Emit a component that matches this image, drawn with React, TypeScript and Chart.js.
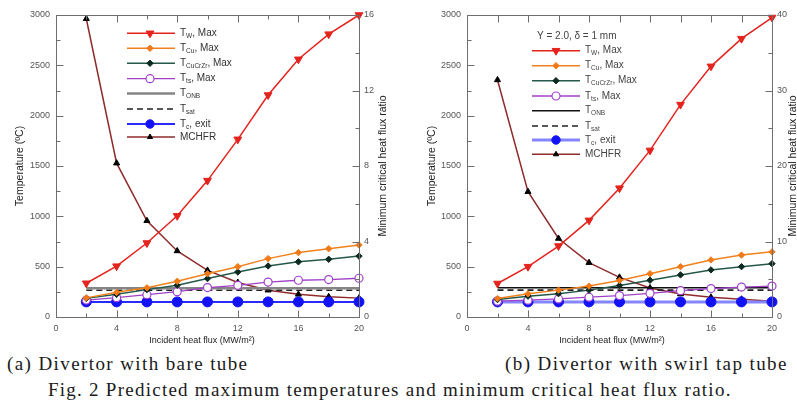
import React, { useEffect, useRef } from 'react';
import { Chart, registerables } from 'chart.js';

Chart.register(...registerables);

const SANS = '"Liberation Sans", Arial, sans-serif';
const SERIF = '"Liberation Serif", "Times New Roman", serif';
const axisColor = '#6e6e6e';

// ---------- shared data ----------
const heatFlux = [2, 4, 6, 8, 10, 12, 14, 16, 18, 20];
const lineEnds = [2, 20];
const xMin = 0;
const xMax = 20;
const xTickStep = 4;
const tempMin = 0;
const tempMax = 3000;
const tempStep = 500;

const legendParts = [
  ['T', 'W', ', Max'],
  ['T', 'Cu', ', Max'],
  ['T', 'CuCrZr', ', Max'],
  ['T', 'ts', ', Max'],
  ['T', 'ONB', ''],
  ['T', 'sat', ''],
  ['T', 'c', ', exit'],
  ['MCHFR', '', ''],
];

// ---------- (a) bare tube ----------
const aTW = [335, 505, 735, 1005, 1355, 1765, 2205, 2560, 2810, 3000];
const aTCu = [190, 245, 290, 355, 430, 500, 580, 640, 678, 715];
const aTCuCrZr = [185, 225, 272, 315, 382, 447, 507, 548, 573, 605];
const aTts = [168, 192, 222, 252, 292, 315, 347, 365, 372, 385];
const aTONB = [285, 285];
const aTsat = [265, 265];
const aTcExit = [150, 150, 150, 150, 150, 150, 150, 150, 150, 150];
const aMCHFR = [15.8, 8.15, 5.1, 3.5, 2.47, 1.83, 1.42, 1.2, 1.07, 1.0];
const aRatioMax = 16;
const aRatioStep = 4;

// ---------- (b) swirl tape tube ----------
const bTW = [333, 500, 705, 960, 1280, 1655, 2110, 2490, 2765, 2975];
const bTCu = [183, 230, 267, 307, 363, 430, 500, 567, 615, 647];
const bTCuCrZr = [173, 207, 232, 267, 313, 365, 418, 468, 500, 530];
const bTts = [157, 167, 180, 197, 213, 235, 262, 282, 297, 307];
const bTONB = [290, 290];
const bTsat = [267, 267];
const bTcExit = [150, 150, 150, 150, 150, 150, 150, 150, 150, 150];
const bMCHFR = [31.4, 16.6, 10.4, 7.2, 5.25, 3.85, 3.05, 2.6, 2.35, 2.1];
const bRatioMax = 40;
const bRatioStep = 10;
const bHeader = 'Y = 2.0, \u03B4 = 1 mm';

const xTitle = 'Incident heat flux (MW/m\u00B2)';
const yTitle = 'Temperature (\u00BAC)';
const y1Title = 'Minimum critical heat flux ratio';

const pts = (xs: number[], ys: number[]) => xs.map((x, i) => ({ x, y: ys[i] }));

// ---------- plugins ----------
function drawMarker(ctx: CanvasRenderingContext2D, ds: any, x: number, y: number) {
  const r = ds.legendRadius ?? ds.pointRadius;
  if (!r) return;
  ctx.save();
  ctx.fillStyle = ds.pointBackgroundColor;
  ctx.strokeStyle = ds.pointBorderColor;
  ctx.lineWidth = ds.pointBorderWidth ?? 1;
  ctx.setLineDash([]);
  ctx.beginPath();
  const st = ds.pointStyle;
  if (st === 'triangle') {
    const rot = ((ds.pointRotation || 0) * Math.PI) / 180;
    for (let k = 0; k < 3; k++) {
      const ang = rot + (k * 2 * Math.PI) / 3;
      const px = x + Math.sin(ang) * r;
      const py = y - Math.cos(ang) * r;
      if (k === 0) ctx.moveTo(px, py);
      else ctx.lineTo(px, py);
    }
    ctx.closePath();
  } else if (st === 'rectRot') {
    ctx.moveTo(x, y - r);
    ctx.lineTo(x + r, y);
    ctx.lineTo(x, y + r);
    ctx.lineTo(x - r, y);
    ctx.closePath();
  } else {
    ctx.arc(x, y, r, 0, Math.PI * 2);
  }
  ctx.fill();
  ctx.stroke();
  ctx.restore();
}

const framePlugin = {
  id: 'frame',
  afterDraw(chart: any, _a: any, opts: any) {
    const { ctx, chartArea: a } = chart;
    const sx = chart.scales.x;
    const sy = chart.scales.y;
    const sy1 = chart.scales.y1;
    const L = Math.round(a.left) + 0.5;
    const R = Math.round(a.right) + 0.5;
    const T = Math.round(a.top) + 0.5;
    const B = Math.round(a.bottom) + 0.5;
    const major = 7;
    const minor = 4;
    ctx.save();
    ctx.strokeStyle = axisColor;
    ctx.lineWidth = 1;
    ctx.setLineDash([]);
    ctx.strokeRect(L, T, R - L, B - T);
    const seg = (x1: number, y1: number, x2: number, y2: number) => {
      ctx.beginPath();
      ctx.moveTo(x1, y1);
      ctx.lineTo(x2, y2);
      ctx.stroke();
    };
    const topMinor = opts.topMinor ?? minor;
    const xv = sx.ticks.map((t: any) => t.value);
    xv.forEach((v: number, i: number) => {
      const p = Math.round(sx.getPixelForValue(v)) + 0.5;
      seg(p, B, p, B - major);
      seg(p, T, p, T + major);
      if (i < xv.length - 1) {
        const m = Math.round(sx.getPixelForValue((v + xv[i + 1]) / 2)) + 0.5;
        seg(m, B, m, B - minor);
        seg(m, T, m, T + topMinor);
      }
    });
    const yv = sy.ticks.map((t: any) => t.value);
    yv.forEach((v: number, i: number) => {
      const p = Math.round(sy.getPixelForValue(v)) + 0.5;
      seg(L, p, L + major, p);
      if (i < yv.length - 1) {
        const m = Math.round(sy.getPixelForValue((v + yv[i + 1]) / 2)) + 0.5;
        seg(L, m, L + minor, m);
      }
    });
    const y1v = sy1.ticks.map((t: any) => t.value);
    y1v.forEach((v: number, i: number) => {
      const p = Math.round(sy1.getPixelForValue(v)) + 0.5;
      seg(R, p, R - major, p);
      if (i < y1v.length - 1) {
        const m = Math.round(sy1.getPixelForValue((v + y1v[i + 1]) / 2)) + 0.5;
        seg(R, m, R - minor, m);
      }
    });
    ctx.restore();
  },
};

const titlesPlugin = {
  id: 'titles',
  afterDraw(chart: any, _a: any, opts: any) {
    const { ctx, chartArea: a } = chart;
    const cy = (a.top + a.bottom) / 2;
    ctx.save();
    ctx.fillStyle = '#222';
    ctx.textAlign = 'center';
    ctx.textBaseline = 'middle';
    ctx.font = `9px ${SANS}`;
    ctx.fillText(xTitle, opts.xTitleX, opts.xTitleY);
    ctx.font = `10.5px ${SANS}`;
    ctx.save();
    ctx.translate(opts.leftX, cy);
    ctx.rotate(-Math.PI / 2);
    ctx.fillText(yTitle, 0, 0);
    ctx.restore();
    ctx.save();
    ctx.translate(opts.rightX, cy);
    ctx.rotate(-Math.PI / 2);
    ctx.fillText(y1Title, 0, 0);
    ctx.restore();
    ctx.restore();
  },
};

const legendPlugin = {
  id: 'legendBox',
  afterDraw(chart: any, _a: any, opts: any) {
    const { ctx } = chart;
    const dss = chart.data.datasets;
    ctx.save();
    ctx.textBaseline = 'middle';
    ctx.textAlign = 'left';
    ctx.fillStyle = opts.textColor;
    if (opts.header) {
      ctx.font = `10px ${SANS}`;
      ctx.fillText(opts.header, opts.headerX, opts.headerY);
    }
    dss.forEach((ds: any, i: number) => {
      const y = opts.ys[i];
      ctx.save();
      ctx.strokeStyle = ds.borderColor;
      ctx.lineWidth = ds.borderWidth;
      ctx.setLineDash(ds.borderDash || []);
      ctx.beginPath();
      ctx.moveTo(opts.x1, y);
      ctx.lineTo(opts.x2, y);
      ctx.stroke();
      ctx.restore();
      drawMarker(ctx, ds, opts.xm, y);
      const [main, sub, rest] = ds.legendParts;
      let x = opts.xt;
      ctx.fillStyle = opts.textColor;
      ctx.font = `10px ${SANS}`;
      ctx.fillText(main, x, y);
      x += ctx.measureText(main).width;
      if (sub) {
        ctx.font = `6.5px ${SANS}`;
        ctx.fillText(sub, x, y + 3);
        x += ctx.measureText(sub).width;
      }
      if (rest) {
        ctx.font = `10px ${SANS}`;
        ctx.fillText(rest, x, y);
      }
    });
    ctx.restore();
  },
};

// ---------- config ----------
type Spec = {
  TW: number[];
  TCu: number[];
  TCuCrZr: number[];
  Tts: number[];
  TONB: number[];
  Tsat: number[];
  TcExit: number[];
  MCHFR: number[];
  ratioMax: number;
  ratioStep: number;
  yWidth: number;
  y1Width: number;
  onbColor: string;
  onbWidth: number;
  exitLine: string;
  exitWidth: number;
  titles: any;
  legend: any;
  topMinor: number;
};

function makeConfig(s: Spec): any {
  const tick = {
    font: { family: SANS, size: 9 },
    color: '#555',
    callback: (v: any) => String(v),
  };
  const common = { clip: false, tension: 0 };
  const ds = [
    {
      ...common,
      label: 'T_W, Max',
      legendParts: legendParts[0],
      data: pts(heatFlux, s.TW),
      borderColor: '#e5231d',
      borderWidth: 1.5,
      pointStyle: 'triangle',
      pointRotation: 180,
      pointRadius: 4.5,
      legendRadius: 4.5,
      pointBackgroundColor: '#e5231d',
      pointBorderColor: '#e5231d',
      pointBorderWidth: 1,
      yAxisID: 'y',
    },
    {
      ...common,
      label: 'T_Cu, Max',
      legendParts: legendParts[1],
      data: pts(heatFlux, s.TCu),
      borderColor: '#f0821e',
      borderWidth: 1.5,
      pointStyle: 'rectRot',
      pointRadius: 3.2,
      pointBackgroundColor: '#f07a18',
      pointBorderColor: '#f07a18',
      pointBorderWidth: 1,
      yAxisID: 'y',
    },
    {
      ...common,
      label: 'T_CuCrZr, Max',
      legendParts: legendParts[2],
      data: pts(heatFlux, s.TCuCrZr),
      borderColor: '#24584a',
      borderWidth: 1.5,
      pointStyle: 'rectRot',
      pointRadius: 3.2,
      pointBackgroundColor: '#0c2a20',
      pointBorderColor: '#0c2a20',
      pointBorderWidth: 1,
      yAxisID: 'y',
    },
    {
      ...common,
      label: 'T_ts, Max',
      legendParts: legendParts[3],
      data: pts(heatFlux, s.Tts),
      borderColor: '#a040c8',
      borderWidth: 1.3,
      pointStyle: 'circle',
      pointRadius: 4,
      pointBackgroundColor: '#ffffff',
      pointBorderColor: '#a040d0',
      pointBorderWidth: 1.2,
      yAxisID: 'y',
    },
    {
      ...common,
      label: 'T_ONB',
      legendParts: legendParts[4],
      data: pts(lineEnds, s.TONB),
      borderColor: s.onbColor,
      borderWidth: s.onbWidth,
      pointRadius: 0,
      yAxisID: 'y',
    },
    {
      ...common,
      label: 'T_sat',
      legendParts: legendParts[5],
      data: pts(lineEnds, s.Tsat),
      borderColor: '#222',
      borderWidth: 1.6,
      borderDash: [6, 4],
      pointRadius: 0,
      yAxisID: 'y',
    },
    {
      ...common,
      label: 'T_c, exit',
      legendParts: legendParts[6],
      data: pts(heatFlux, s.TcExit),
      borderColor: s.exitLine,
      borderWidth: s.exitWidth,
      pointStyle: 'circle',
      pointRadius: 5,
      legendRadius: 4.2,
      pointBackgroundColor: '#1212f5',
      pointBorderColor: '#1212f5',
      pointBorderWidth: 1,
      yAxisID: 'y',
    },
    {
      ...common,
      label: 'MCHFR',
      legendParts: legendParts[7],
      data: pts(heatFlux, s.MCHFR),
      borderColor: '#8e2b2b',
      borderWidth: 1.5,
      pointStyle: 'triangle',
      pointRotation: 0,
      pointRadius: 3.5,
      legendRadius: 3,
      pointBackgroundColor: '#000',
      pointBorderColor: '#000',
      pointBorderWidth: 1,
      yAxisID: 'y1',
    },
  ];
  return {
    type: 'line',
    data: { datasets: ds },
    options: {
      responsive: false,
      animation: false,
      events: [],
      layout: { padding: { top: 15, left: 0, right: 0, bottom: 0 } },
      plugins: {
        legend: { display: false },
        tooltip: { enabled: false },
        frame: { topMinor: s.topMinor },
        titles: s.titles,
        legendBox: s.legend,
      },
      scales: {
        x: {
          type: 'linear',
          position: 'bottom',
          min: xMin,
          max: xMax,
          grid: { display: false, drawTicks: false },
          border: { display: false },
          ticks: { ...tick, stepSize: xTickStep, padding: 6, maxRotation: 0 },
          afterFit: (sc: any) => {
            sc.height = 33;
          },
        },
        y: {
          type: 'linear',
          position: 'left',
          min: tempMin,
          max: tempMax,
          grid: { display: false, drawTicks: false },
          border: { display: false },
          ticks: { ...tick, stepSize: tempStep, padding: 6 },
          afterFit: (sc: any) => {
            sc.width = s.yWidth;
          },
        },
        y1: {
          type: 'linear',
          position: 'right',
          min: 0,
          max: s.ratioMax,
          grid: { display: false, drawTicks: false },
          border: { display: false },
          ticks: { ...tick, stepSize: s.ratioStep, padding: 5 },
          afterFit: (sc: any) => {
            sc.width = s.y1Width;
          },
        },
      },
    },
    plugins: [framePlugin, titlesPlugin, legendPlugin],
  };
}

const specA: Spec = {
  TW: aTW,
  TCu: aTCu,
  TCuCrZr: aTCuCrZr,
  Tts: aTts,
  TONB: aTONB,
  Tsat: aTsat,
  TcExit: aTcExit,
  MCHFR: aMCHFR,
  ratioMax: aRatioMax,
  ratioStep: aRatioStep,
  yWidth: 56,
  y1Width: 41,
  onbColor: '#858585',
  onbWidth: 2.5,
  exitLine: '#2a2aff',
  exitWidth: 2,
  titles: { xTitleX: 202, xTitleY: 341, leftX: 20, rightX: 383 },
  legend: {
    x1: 127,
    x2: 175,
    xm: 150,
    xt: 180,
    ys: [33.3, 48.3, 63.3, 78.7, 93.5, 109, 124, 137],
    textColor: '#333',
  },
  topMinor: 4,
};

const specB: Spec = {
  TW: bTW,
  TCu: bTCu,
  TCuCrZr: bTCuCrZr,
  Tts: bTts,
  TONB: bTONB,
  Tsat: bTsat,
  TcExit: bTcExit,
  MCHFR: bMCHFR,
  ratioMax: bRatioMax,
  ratioStep: bRatioStep,
  yWidth: 67,
  y1Width: 33,
  onbColor: '#111',
  onbWidth: 1.5,
  exitLine: '#8585ff',
  exitWidth: 3,
  titles: { xTitleX: 212, xTitleY: 341, leftX: 32, rightX: 393 },
  legend: {
    x1: 132,
    x2: 180,
    xm: 156,
    xt: 185,
    ys: [50.7, 65.7, 80.7, 96, 110.7, 126, 140, 154.3],
    textColor: '#444',
    header: bHeader,
    headerX: 137,
    headerY: 36.7,
  },
  topMinor: 7,
};

function ChartCanvas({ spec, left, width, height }: { spec: Spec; left: number; width: number; height: number }) {
  const ref = useRef<HTMLCanvasElement | null>(null);
  useEffect(() => {
    if (!ref.current) return;
    const chart = new Chart(ref.current, makeConfig(spec));
    return () => chart.destroy();
  }, [spec]);
  return (
    <canvas
      ref={ref}
      width={width}
      height={height}
      style={{ position: 'absolute', left, top: 0, width, height }}
    />
  );
}

const captionStyle: React.CSSProperties = {
  position: 'absolute',
  fontFamily: SERIF,
  fontSize: 19,
  lineHeight: '20px',
  letterSpacing: 1.4,
  whiteSpace: 'nowrap',
  color: '#1a1a1a',
};

export default function App() {
  return (
    <div
      style={{
        position: 'absolute',
        left: 0,
        top: 0,
        width: 797,
        height: 405,
        overflow: 'hidden',
        background: '#fff',
      }}
    >
      <ChartCanvas spec={specA} left={0} width={400} height={350} />
      <ChartCanvas spec={specB} left={400} width={405} height={350} />
      <div style={{ ...captionStyle, left: 7, top: 354 }}>(a) Divertor with bare tube</div>
      <div style={{ ...captionStyle, left: 505, top: 354 }}>(b) Divertor with swirl tap tube</div>
      <div style={{ ...captionStyle, left: 48, top: 380, letterSpacing: 1.25 }}>
        Fig. 2 Predicted maximum temperatures and minimum critical heat flux ratio.
      </div>
    </div>
  );
}
